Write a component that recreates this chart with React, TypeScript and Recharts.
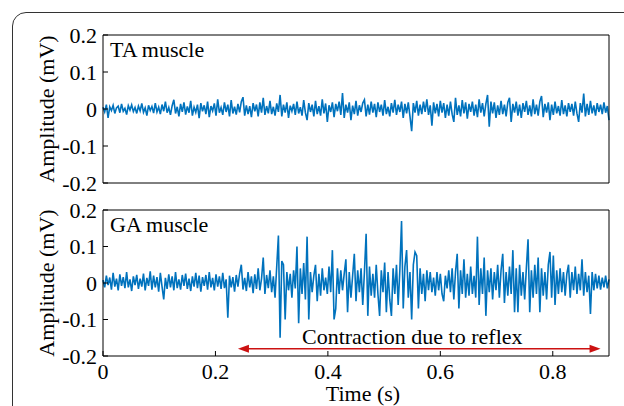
import React from "react"
import { LineChart, Line, XAxis, YAxis, ReferenceLine } from "recharts"

const FONT = "'Liberation Serif', 'Times New Roman', serif"
const FONT_SIZE = 22
const SIGNAL_BLUE = "#0072BD"
const ARROW_RED = "#cc1111"

// sampling step of the traces, seconds
const SAMPLE_STEP = 0.003
const TIME_DOMAIN: [number, number] = [0, 0.9]
const TIME_TICKS = [0, 0.2, 0.4, 0.6, 0.8]
const AMP_DOMAIN: [number, number] = [-0.2, 0.2]
const AMP_TICKS = [-0.2, -0.1, 0, 0.1, 0.2]

// TA muscle, amplitude in µV
const TA_UV = [
  5, -8, 12, -24, 6, -4, 10, -12, 3, 8, -10, 14, -6, 2, -15, 9, -3, 11, -7, 4,
  -12, 8, -5, 15, -9, 3, -18, 10, -4, 7, -11, 16, -8, 5, -14, 12, -6, 20, -10, 4,
  -16, 9, 25, -12, 6, -20, 14, -8, 18, -15, 7, -10, 22, -18, 5, -9, 12, -25, 16, -6,
  10, -14, 20, -22, 8, -5, 15, -18, 26, -10, 4, -16, 18, -8, 12, -20, 24, -12, 6, -15,
  14, -9, 20, 32, -18, 10, -14, 8, -22, 16, -6, 12, -20, 18, -10, 30, -16, 8, -12, 22,
  -14, 6, -18, 15, -8, 38, -20, 12, -10, 18, -24, 9, -6, 14, -16, 20, -12, 5, -18, 24,
  -10, -30, 16, -8, 12, -20, 22, -14, 8, -18, 26, -12, 15, -35, 10, -8, 18, -22, 14, -6,
  20, -16, 43, -24, 12, -10, 18, -30, 9, -14, 22, -18, 10, -8, 16, 25, -20, 12, -15, 20,
  -10, 14, -22, 18, -8, 12, -18, 24, -14, 6, -20, 16, -10, 25, -16, 12, -8, 20, -24, 14,
  -12, 18, -20, -60, 16, -10, 22, -18, 12, -14, 20, -8, 26, -16, 10, -45, 18, -12, 14, -20,
  22, -10, 16, -24, 12, -18, 20, -14, -35, 30, -16, 10, -20, 24, -12, 18, -26, 14, -8, 20,
  -18, 12, -22, 26, -10, 16, -20, 14, 38, -48, 20, -12, 18, -24, 10, -16, 22, -14, 12, -20,
  18, 30, -35, 14, -10, 20, -18, 12, -24, 16, -8, 22, -16, 10, -20, 26, -14, 12, -18, 20,
  35, -22, 14, -10, 18, -30, 12, -16, 20, -12, 8, -18, 24, -14, 10, -20, 16, -8, 14, -18,
  20, -12, -35, 16, -10, 42, -20, 14, -16, 22, -12, 10, -18, 16, -8, 12, -14, 18, -10, 8,
  -30,
]

// GA muscle, amplitude in µV
const GA_UV = [
  8, -12, 20, -6, 15, -18, 28, -10, 12, -20, 24, -8, 16, -14, 30, -12, 10, -22, 18, -6,
  22, -16, 12, -10, 26, -20, 14, -8, 32, -18, 20, -12, 16, -24, 28, -10, -45, 14, -16, 24,
  -12, 18, -20, 30, -14, 10, -18, 22, -8, 26, -16, 12, -22, 18, -10, 28, -14, 20, -24, 16,
  -8, 22, -18, 30, -12, 14, -20, 24, -10, 18, -16, 28, -14, 10, -95, 20, -12, 16, -24, 22,
  -10, 26, 50, -18, 14, -22, 30, -12, 18, -28, 24, -16, 40, -20, 12, 70, -30, 22, -14, 35,
  -25, 18, -40, 45, 130, -150, 60, 50, -100, 30, -20, 25, -40, 35, -15, 100, -110, 40, -30, 55,
  -45, 127, -100, 30, -25, 20, 50, -50, 25, -35, 40, -20, 15, -30, 45, -25, 90, -100, -70, 40,
  -30, 35, -20, 25, 65, -80, 30, -40, 20, 80, -50, 35, -25, 40, -60, 30, 135, -90, 45, -35,
  25, -40, 50, -30, -90, 35, -25, 56, -80, 30, -45, -90, 40, -30, 50, -60, 35, 170, -70, 45,
  90, -40, 30, -100, 50, 85, 75, -70, 40, -30, 25, -50, 35, -20, 30, -25, 15, -35, 30, -20,
  25, -30, -50, 20, -15, 35, -25, 40, -45, 30, 80, -70, 35, -30, 65, -40, 25, -35, 45, -30,
  20, -40, 127, -60, 40, -30, 70, -90, 35, -25, 40, -45, 30, -20, 50, -40, 35, 80, -55, 30,
  -35, 45, -30, 90, -80, 40, -80, 50, -35, 30, -45, 40, 120, -80, 35, -40, 50, -30, 70, -80,
  40, -35, 30, -45, 50, 85, -40, 75, -60, 35, -30, 40, -25, 30, -35, 25, 50, -40, 30, -20,
  45, -30, 25, -20, 65, -35, 30, -25, 20, -85, 30, -20, 25, -15, 20, -18, 15, -12, 20, -15,
  10,
]

// reflex contraction window (s) and the level the arrow sits at (mV)
const REFLEX_START = 0.24
const REFLEX_END = 0.885
const REFLEX_LEVEL = -0.18

const toRows = (uv: number[]) =>
  uv.map((v, i) => ({ t: +(i * SAMPLE_STEP).toFixed(3), v: v / 1000 }))

const taData = toRows(TA_UV)
const gaData = toRows(GA_UV)

const tickFont = { fill: "#000", fontSize: FONT_SIZE, fontFamily: FONT }

function ampLabel(props: any) {
  const { x, y, height } = props.viewBox
  const cx = x + 46
  const cy = y + height / 2
  return (
    <text x={cx} y={cy} transform={`rotate(-90 ${cx} ${cy})`} textAnchor="middle"
      dominantBaseline="central" fontSize={FONT_SIZE} fontFamily={FONT} fill="#000">
      Amplitude (mV)
    </text>
  )
}

const titleLabel = (title: string) => (props: any) => {
  const { x, y, height } = props.viewBox
  return (
    <text x={x + 7} y={y + height + 22} fontSize={FONT_SIZE} fontFamily={FONT} fill="#000">
      {title}
    </text>
  )
}

function timeLabel(props: any) {
  const { x, y, width } = props.viewBox
  return (
    <text x={x + width / 2 + 7} y={y + 45} textAnchor="middle" fontSize={FONT_SIZE} fontFamily={FONT} fill="#000">
      Time (s)
    </text>
  )
}

function reflexArrow(props: any) {
  const { x1, x2, y1 } = props
  const head = 11
  return (
    <g>
      <line x1={x1 + head - 1} y1={y1} x2={x2 - head + 1} y2={y1} stroke={ARROW_RED} strokeWidth={1.6} />
      <polygon points={`${x1},${y1} ${x1 + head},${y1 - 4} ${x1 + head},${y1 + 4}`} fill={ARROW_RED} />
      <polygon points={`${x2},${y1} ${x2 - head},${y1 - 4} ${x2 - head},${y1 + 4}`} fill={ARROW_RED} />
      <text x={(x1 + x2) / 2 - 7} y={y1 - 5} textAnchor="middle" fontSize={FONT_SIZE} fontFamily={FONT} fill="#000">
        Contraction due to reflex
      </text>
    </g>
  )
}

interface PanelProps {
  data: { t: number; v: number }[]
  title: string
  top: number
  height: number
  topAxisH: number
  bottomAxisH: number
  showTime?: boolean
  children?: React.ReactNode
}

function Panel({ data, title, top, height, topAxisH, bottomAxisH, showTime, children }: PanelProps) {
  return (
    <div style={{ position: "absolute", left: 0, top }}>
      <LineChart width={624} height={height} data={data} margin={{ top: 0, right: 0, bottom: 0, left: 0 }}>
        <XAxis xAxisId="top" orientation="top" dataKey="t" type="number" domain={TIME_DOMAIN}
          ticks={TIME_TICKS} interval={0} tick={false} tickSize={-5} height={topAxisH} stroke="#000"
          label={titleLabel(title)} />
        <XAxis xAxisId="bottom" dataKey="t" type="number" domain={TIME_DOMAIN} ticks={TIME_TICKS}
          interval={0} tick={showTime ? tickFont : false} tickSize={-5} tickMargin={12} height={bottomAxisH}
          stroke="#000" label={showTime ? timeLabel : undefined} />
        <YAxis yAxisId="left" type="number" domain={AMP_DOMAIN} ticks={AMP_TICKS} interval={0} tick={tickFont}
          tickSize={-5} tickMargin={11} width={103} stroke="#000" label={ampLabel} />
        <YAxis yAxisId="right" orientation="right" type="number" domain={AMP_DOMAIN} ticks={AMP_TICKS}
          interval={0} tick={false} tickSize={-5} width={15} stroke="#000" />
        <Line xAxisId="bottom" yAxisId="left" type="linear" dataKey="v" stroke={SIGNAL_BLUE}
          strokeWidth={1.6} dot={false} isAnimationActive={false} />
        {children}
      </LineChart>
    </div>
  )
}

export default function App() {
  return (
    <div style={{ position: "absolute", left: 0, top: 0, width: 624, height: 406, overflow: "hidden", background: "#fff", fontFamily: FONT }}>
      <div style={{ position: "absolute", left: 12, top: 12, width: 700, height: 500, border: "1.5px solid #333", borderRadius: 14 }} />
      <Panel data={taData} title="TA muscle" top={0} height={196} topAxisH={35} bottomAxisH={13} />
      <Panel data={gaData} title="GA muscle" top={196} height={210} topAxisH={14} bottomAxisH={50} showTime>
        <ReferenceLine xAxisId="bottom" yAxisId="left"
          segment={[{ x: REFLEX_START, y: REFLEX_LEVEL }, { x: REFLEX_END, y: REFLEX_LEVEL }]}
          shape={reflexArrow} ifOverflow="visible" />
      </Panel>
    </div>
  )
}
